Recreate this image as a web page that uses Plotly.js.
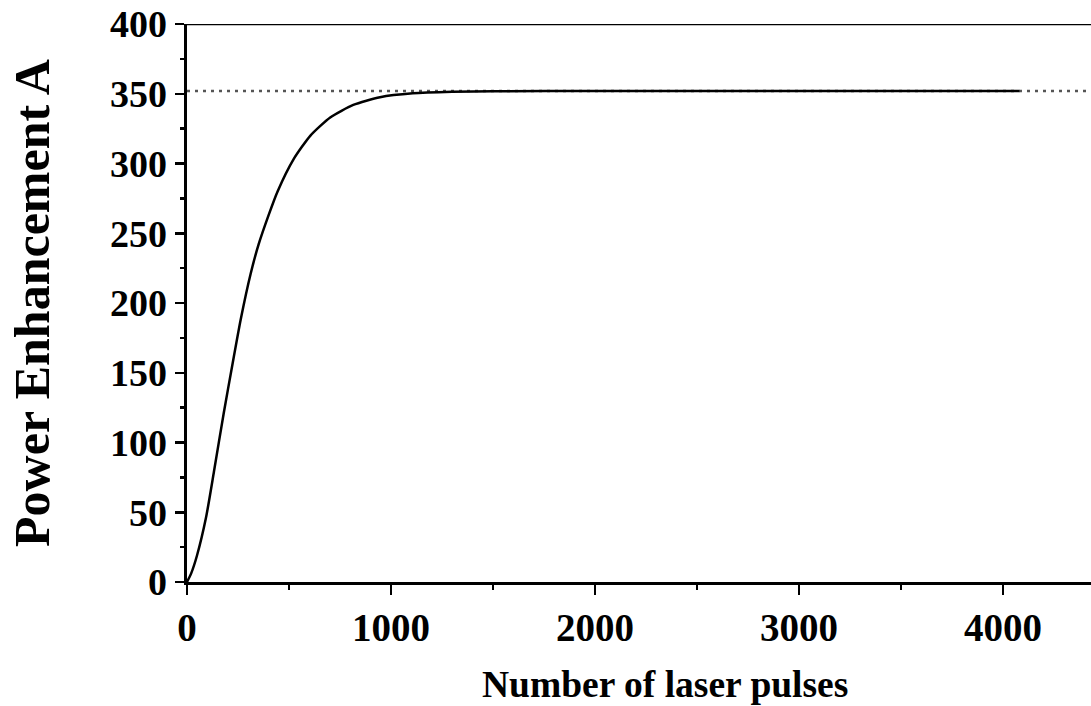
<!DOCTYPE html>
<html>
<head>
<meta charset="utf-8">
<script src="https://cdn.plot.ly/plotly-3.0.1.min.js"></script>
<style>
  html, body { margin: 0; padding: 0; background: #fff; overflow: hidden; }
  #chart { width: 1091px; height: 706px; }
</style>
</head>
<body>
<div id="chart"></div>
<script>
// Number of laser pulses (x) and power enhancement A (y)
const pulses = [0, 20, 49, 93, 132, 180, 224, 263, 312, 351, 400, 444, 522, 605, 702, 815, 946, 1107, 1300, 1500, 2000, 3000, 4080];
const enhancement = [0, 6, 19, 46, 79, 121, 157, 188, 221, 242, 263, 280, 303, 320, 333, 342, 347.5, 350.3, 351.4, 351.8, 352, 352, 352];
// Asymptotic (saturation) level shown as dotted line
const saturationLevel = 352;
const xTitle = "Number of laser pulses";
const yTitle = "Power Enhancement A";

const fontFamily = '"Liberation Serif", "Times New Roman", serif';

const trace = {
  x: pulses,
  y: enhancement,
  type: 'scatter',
  mode: 'lines',
  line: { color: '#000', width: 2.5, shape: 'spline', smoothing: 0.6 },
  hoverinfo: 'skip',
  showlegend: false
};

const layout = {
  width: 1091,
  height: 706,
  margin: { l: 187, r: 0, t: 24, b: 124 },
  paper_bgcolor: '#fff',
  plot_bgcolor: '#fff',
  font: { family: fontFamily, color: '#000' },
  xaxis: {
    range: [0, 4431],
    tickmode: 'linear', tick0: 0, dtick: 1000,
    ticks: 'outside', ticklen: 10, tickwidth: 2.5, tickcolor: '#000',
    minor: { tickmode: 'linear', tick0: 0, dtick: 500, ticks: 'outside', ticklen: 5, tickwidth: 2.5, tickcolor: '#000' },
    showline: true, linecolor: '#000', linewidth: 2.5,
    showgrid: false, zeroline: false,
    tickfont: { family: fontFamily, size: 39, weight: 'bold', color: '#000' },
    fixedrange: true
  },
  yaxis: {
    range: [0, 400],
    tickmode: 'linear', tick0: 0, dtick: 50,
    ticks: 'outside', ticklen: 9, tickwidth: 2.5, tickcolor: '#000',
    minor: { tickmode: 'linear', tick0: 0, dtick: 25, ticks: 'outside', ticklen: 4, tickwidth: 2.5, tickcolor: '#000' },
    showline: true, linecolor: '#000', linewidth: 3.5,
    showgrid: false, zeroline: false,
    tickfont: { family: fontFamily, size: 38, weight: 'bold', color: '#000' },
    title: { text: yTitle, font: { family: fontFamily, size: 50, weight: 'bold', color: '#000' }, standoff: 45 },
    fixedrange: true
  },
  shapes: [
    { type: 'line', xref: 'x', yref: 'y', x0: 0, x1: 4431, y0: saturationLevel, y1: saturationLevel,
      line: { color: '#555', width: 2.5, dash: '3px,5px' }, layer: 'below' },
    { type: 'line', xref: 'paper', yref: 'y', x0: 0, x1: 1, y0: 400, y1: 400,
      line: { color: '#000', width: 2.5 } }
  ],
  annotations: [
    { text: xTitle, xref: 'paper', yref: 'paper', x: 0.529, y: -0.183, xanchor: 'center', yanchor: 'middle',
      showarrow: false, font: { family: fontFamily, size: 37.5, weight: 'bold', color: '#000' } }
  ]
};

Plotly.newPlot('chart', [trace], layout, { staticPlot: true, displayModeBar: false });
</script>
</body>
</html>
